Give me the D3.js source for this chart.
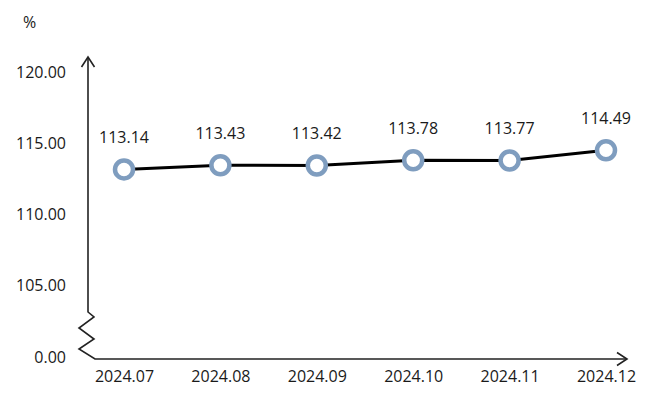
<!DOCTYPE html>
<html>
<head>
<meta charset="utf-8">
<script src="https://cdn.jsdelivr.net/npm/d3@7"></script>
<style>
  body { margin: 0; background: #fff; }
  text { font-family: "Open Sans", "Noto Sans", sans-serif; fill: #1a1a1a; }
</style>
</head>
<body>
<script>
// data
var months = ["2024.07", "2024.08", "2024.09", "2024.10", "2024.11", "2024.12"];
var values = [113.14, 113.43, 113.42, 113.78, 113.77, 114.49];
var yTicks = [105, 110, 115, 120];
var breakLabel = "0.00";
var unit = "%";

var width = 660, height = 401;
var axisX = 88, baseY = 359;

var svg = d3.select("body").append("svg")
    .attr("width", width).attr("height", height);

var x = d3.scalePoint().domain(months).range([124, 606]);
var y = d3.scaleLinear().domain([105, 120]).range([285, 72]);

// y tick labels
svg.append("g")
    .attr("transform", "translate(66,0)")
    .call(d3.axisLeft(y).tickValues(yTicks).tickSize(0).tickPadding(0)
        .tickFormat(d3.format(".2f")))
    .call(function(g){ g.select(".domain").remove(); })
    .selectAll("text")
    .style("font-size", "16px")
    .attr("fill", "#1a1a1a");

// break label
svg.append("text")
    .attr("x", 66).attr("y", baseY - 2)
    .attr("text-anchor", "end").attr("dy", "0.35em")
    .style("font-size", "16px")
    .text(breakLabel);

// unit
svg.append("text")
    .attr("x", 23).attr("y", 28)
    .style("font-size", "16px")
    .text(unit);

// axes with break zigzag and arrows
var axisPath = d3.path();
axisPath.moveTo(axisX, 57);
axisPath.lineTo(axisX, 312);
axisPath.lineTo(94, 317);
axisPath.lineTo(79, 328);
axisPath.lineTo(94, 339);
axisPath.lineTo(79, 349);
axisPath.lineTo(95, baseY);
axisPath.lineTo(627, baseY);
svg.append("path").attr("d", axisPath.toString())
    .attr("fill", "none").attr("stroke", "#222").attr("stroke-width", 1.6);

svg.append("path")
    .attr("d", "M" + (axisX - 6.5) + ",67 L" + axisX + ",57 L" + (axisX + 6.5) + ",67")
    .attr("fill", "none").attr("stroke", "#222").attr("stroke-width", 1.6);
svg.append("path")
    .attr("d", "M617,352.5 L627," + baseY + " L617,365.5")
    .attr("fill", "none").attr("stroke", "#222").attr("stroke-width", 1.6);

// x labels
svg.append("g")
    .attr("transform", "translate(0," + baseY + ")")
    .call(d3.axisBottom(x).tickSize(0).tickPadding(12))
    .call(function(g){ g.select(".domain").remove(); })
    .selectAll("text")
    .style("font-size", "16px")
    .attr("fill", "#1a1a1a");

// line
var line = d3.line()
    .x(function(d, i){ return x(months[i]); })
    .y(function(d){ return y(d); });

svg.append("path").datum(values)
    .attr("d", line)
    .attr("fill", "none").attr("stroke", "#000").attr("stroke-width", 3);

// markers
svg.selectAll("circle.pt").data(values).enter()
    .append("circle").attr("class", "pt")
    .attr("cx", function(d, i){ return x(months[i]); })
    .attr("cy", function(d){ return y(d); })
    .attr("r", 9)
    .attr("fill", "#fff")
    .attr("stroke", "#7f9dbf").attr("stroke-width", 4.5);

// value labels
svg.selectAll("text.val").data(values).enter()
    .append("text").attr("class", "val")
    .attr("x", function(d, i){ return x(months[i]); })
    .attr("y", function(d){ return y(d) - 26; })
    .attr("text-anchor", "middle")
    .style("font-size", "16px")
    .text(function(d){ return d.toFixed(2); });
</script>
</body>
</html>
